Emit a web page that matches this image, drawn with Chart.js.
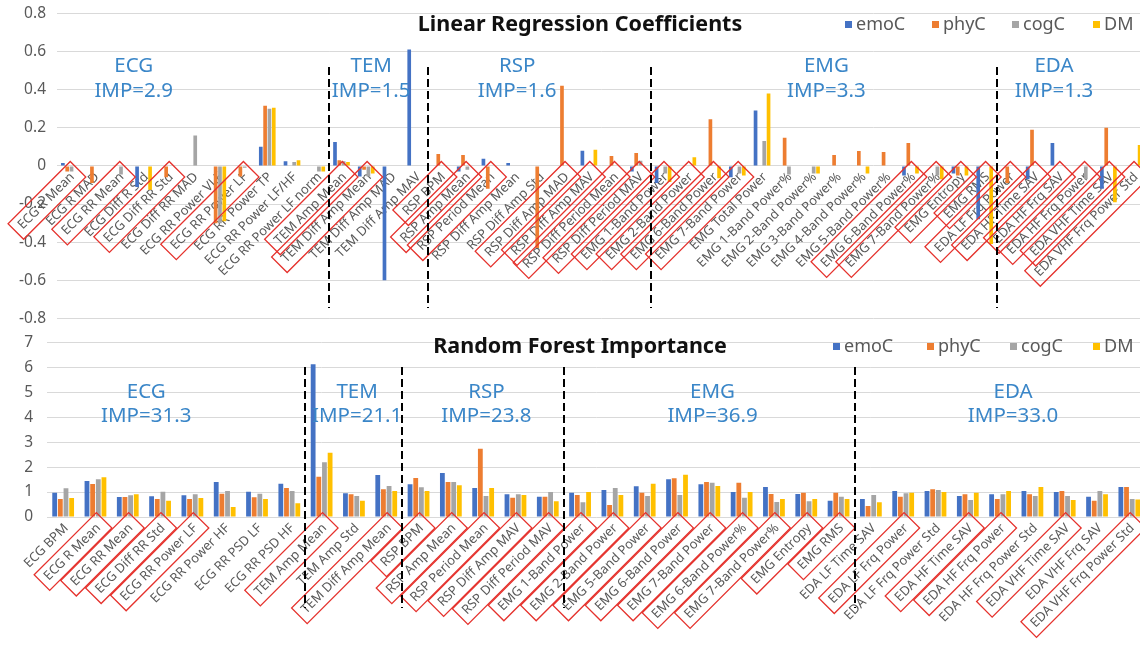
<!DOCTYPE html>
<html lang="en">
<head>
<meta charset="UTF-8">
<title>Linear Regression Coefficients / Random Forest Importance</title>
<script src="https://cdn.jsdelivr.net/npm/chart.js"></script>
<style>
  body { margin: 0; padding: 0; background: #fff; overflow: hidden; }
  #wrap { position: relative; width: 1140px; height: 646px; overflow: hidden; }
  #lrChart { position: absolute; left: 0; top: 0; }
  #rfChart { position: absolute; left: 0; top: 330px; }
</style>
</head>
<body>
<div id="wrap">
  <canvas id="lrChart" width="1160" height="330"></canvas>
  <canvas id="rfChart" width="1160" height="316"></canvas>
</div>
<script>
const seriesNames = ['emoC', 'phyC', 'cogC', 'DM'];
const seriesColors = ['#4472C4', '#ED7D31', '#A5A5A5', '#FFC000'];

// ---- Linear regression coefficients ----
const lrLabels = [
  'ECG R Mean', 'ECG R MAD', 'ECG RR Mean', 'ECG Diff R Std', 'ECG Diff RR Std', 'ECG Diff RR MAD',
  'ECG RR Power VLF', 'ECG RR Power LF', 'ECG RR Power TP', 'ECG RR Power LF/HF', 'ECG RR Power LF norm',
  'TEM Amp Mean', 'TEM Diff Amp Mean', 'TEM Diff Amp MAD', 'TEM Diff Amp MAV',
  'RSP BPM', 'RSP Amp Mean', 'RSP Period Mean', 'RSP Diff Amp Mean', 'RSP Diff Amp Std', 'RSP Diff Amp MAD',
  'RSP Diff Amp MAV', 'RSP Diff Period Mean', 'RSP Diff Period MAV',
  'EMG 1-Band Power', 'EMG 2-Band Power', 'EMG 6-Band Power', 'EMG 7-Band Power', 'EMG Total Power',
  'EMG 1-Band Power%', 'EMG 2-Band Power%', 'EMG 3-Band Power%', 'EMG 4-Band Power%', 'EMG 5-Band Power%',
  'EMG 6-Band Power%', 'EMG 7-Band Power%', 'EMG Entropy', 'EMG RMS',
  'EDA LF Frq Power', 'EDA HF Time SAV', 'EDA HF Frq SAV', 'EDA HF Frq Power', 'EDA VHF Time SAV', 'EDA VHF Frq Power Std'
];
const lrEmoC = [0.015, 0, 0, -0.11, 0, 0, 0, 0, 0.1, 0.025, 0,
  0.125, -0.055, -0.6, 0.61,
  0, -0.03, 0.037, 0.015, 0, 0, 0.08, 0, -0.03,
  -0.09, 0, 0, -0.06, 0.29, 0, 0, 0, 0, 0, -0.05, 0, -0.04, -0.28,
  0, -0.07, 0.12, 0, -0.12, 0];
const lrPhyC = [-0.03, -0.09, 0, 0, -0.06, 0, -0.30, -0.055, 0.315, 0, 0,
  0.03, -0.02, 0, 0,
  0.063, 0.057, -0.12, 0, -0.43, 0.42, 0, 0.052, 0.067,
  0, 0, 0.245, 0, 0, 0.147, 0, 0.057, 0.078, 0.073, 0.12, 0, -0.05, 0,
  -0.09, 0.19, 0, 0, 0.2, 0];
const lrCogC = [-0.03, 0, -0.045, 0, 0, 0.16, -0.30, -0.01, 0.30, 0.02, -0.03,
  0.025, -0.055, 0, 0,
  0, -0.02, 0, 0, 0, 0, 0, 0, 0.027,
  -0.04, 0, 0, -0.04, 0.13, -0.045, -0.04, 0, 0, 0, 0, -0.05, 0, 0,
  0, 0, 0, -0.07, 0, 0];
const lrDM = [0, 0, 0, -0.125, 0, 0, -0.29, 0, 0.305, 0.03, -0.03,
  0.02, -0.04, 0, 0,
  0, 0, 0, 0, 0, 0, 0.085, 0, 0,
  -0.085, 0.045, -0.065, -0.05, 0.38, 0, -0.04, 0, -0.04, 0, -0.04, -0.07, -0.05, -0.41,
  0, 0, 0, 0, -0.19, 0.11];
const lrBoxed = [0, 2, 4, 7, 11, 12, 15, 16, 17, 20, 21, 22, 23, 24, 25, 26, 27, 34, 35, 36, 37, 38, 39, 40, 41, 42, 43];
const lrDividers = [10, 14, 23, 37];
const lrGroupNames = ['ECG', 'TEM', 'RSP', 'EMG', 'EDA'];
const lrImp = ['IMP=2.9', 'IMP=1.5', 'IMP=1.6', 'IMP=3.3', 'IMP=1.3'];

// ---- Random forest importance ----
const rfLabels = [
  'ECG BPM', 'ECG R Mean', 'ECG RR Mean', 'ECG Diff RR Std', 'ECG RR Power LF', 'ECG RR Power HF',
  'ECG RR PSD LF', 'ECG RR PSD HF',
  'TEM Amp Mean', 'TEM Amp Std', 'TEM Diff Amp Mean',
  'RSP BPM', 'RSP Amp Mean', 'RSP Period Mean', 'RSP Diff Amp MAV', 'RSP Diff Period MAV',
  'EMG 1-Band Power', 'EMG 2-Band Power', 'EMG 5-Band Power', 'EMG 6-Band Power', 'EMG 7-Band Power',
  'EMG 6-Band Power%', 'EMG 7-Band Power%', 'EMG Entropy', 'EMG RMS',
  'EDA LF Time SAV', 'EDA LF Frq Power', 'EDA LF Frq Power Std', 'EDA HF Time SAV', 'EDA HF Frq Power',
  'EDA HF Frq Power Std', 'EDA VHF Time SAV', 'EDA VHF Frq SAV', 'EDA VHF Frq Power Std'
];
const rfEmoC = [0.97, 1.44, 0.8, 0.83, 0.87, 1.4, 1.01, 1.33, 6.12, 0.95, 1.68, 1.31, 1.76, 1.16, 0.91, 0.81,
  0.97, 1.08, 1.23, 1.51, 1.31, 1.0, 1.2, 0.92, 0.65, 0.72, 1.04, 1.04, 0.84, 0.91, 1.04, 1.0, 0.81, 1.2];
const rfPhyC = [0.72, 1.32, 0.8, 0.72, 0.72, 0.93, 0.79, 1.16, 1.61, 0.91, 1.11, 1.56, 1.4, 2.73, 0.77, 0.81,
  0.88, 0.48, 0.97, 1.55, 1.4, 1.37, 0.92, 0.97, 0.97, 0.44, 0.81, 1.11, 0.91, 0.72, 0.91, 1.04, 0.65, 1.2];
const rfCogC = [1.15, 1.51, 0.87, 1.01, 0.91, 1.04, 0.93, 1.04, 2.19, 0.84, 1.24, 1.19, 1.4, 0.84, 0.91, 1.0,
  0.59, 1.16, 0.84, 0.88, 1.37, 0.77, 0.6, 0.63, 0.81, 0.88, 0.95, 1.08, 0.68, 0.91, 0.84, 0.84, 1.04, 0.72];
const rfDM = [0.76, 1.59, 0.91, 0.65, 0.76, 0.4, 0.72, 0.55, 2.57, 0.65, 1.04, 1.04, 1.27, 1.16, 0.88, 0.63,
  1.0, 0.88, 1.33, 1.69, 1.24, 1.0, 0.72, 0.72, 0.72, 0.59, 0.97, 1.0, 0.97, 1.04, 1.2, 0.68, 0.91, 0.7];
const rfBoxed = [1, 2, 3, 4, 8, 10, 11, 12, 13, 14, 15, 16, 17, 18, 19, 20, 21, 22, 23, 24, 26, 28, 29, 31, 33];
const rfDividers = [7, 10, 15, 24];
const rfGroupNames = ['ECG', 'TEM', 'RSP', 'EMG', 'EDA'];
const rfImp = ['IMP=31.3', 'IMP=21.1', 'IMP=23.8', 'IMP=36.9', 'IMP=33.0'];

const labelFont = '13px "Noto Sans"';

// draws axis labels, red boxes, dashed group dividers, group notes, title and legend
const overlay = {
  id: 'overlay',
  beforeDatasetsDraw(chart) {
    const { ctx, scales: { x, y } } = chart;
    const y0 = y.getPixelForValue(0);
    ctx.save();
    ctx.font = labelFont;
    ctx.fillStyle = '#595959';
    ctx.textAlign = 'right';
    ctx.textBaseline = 'middle';
    chart.data.labels.forEach((lab, i) => {
      ctx.save();
      ctx.translate(x.getPixelForValue(i) + 3, y0 + 9);
      ctx.rotate(-Math.PI / 4);
      ctx.fillText(lab, 0, 0);
      ctx.restore();
    });
    ctx.restore();
  },
  afterDraw(chart, args, o) {
    const { ctx, scales: { x, y } } = chart;
    const y0 = y.getPixelForValue(0);
    ctx.save();

    // red boxes round selected labels
    ctx.font = labelFont;
    ctx.strokeStyle = '#E5322D';
    ctx.lineWidth = 1.3;
    o.boxed.forEach(i => {
      const w = ctx.measureText(chart.data.labels[i]).width;
      ctx.save();
      ctx.translate(x.getPixelForValue(i) + 3, y0 + 9);
      ctx.rotate(-Math.PI / 4);
      ctx.strokeRect(-w - 6, -11, w + 14, 22);
      ctx.restore();
    });

    // dashed dividers between signal groups
    ctx.strokeStyle = '#000';
    ctx.lineWidth = 2;
    ctx.setLineDash([8, 4]);
    o.dividers.forEach(i => {
      const px = Math.round((x.getPixelForValue(i) + x.getPixelForValue(i + 1)) / 2);
      ctx.beginPath();
      ctx.moveTo(px, o.dashTop);
      ctx.lineTo(px, o.dashBottom);
      ctx.stroke();
    });
    ctx.setLineDash([]);

    // group names and importance
    ctx.font = '20.5px "Noto Sans"';
    ctx.fillStyle = '#3A86C8';
    ctx.textAlign = 'center';
    ctx.textBaseline = 'middle';
    o.groupNames.forEach((g, k) => {
      const px = x.getPixelForValue(o.groupAt[k]);
      ctx.fillText(g, px, o.groupY[0]);
      ctx.fillText(o.imp[k], px, o.groupY[1]);
    });

    // title
    ctx.font = 'bold 21.5px "Noto Sans"';
    ctx.fillStyle = '#111';
    ctx.fillText(o.title, 580, o.titleY);

    // legend
    ctx.font = '18px "Noto Sans"';
    ctx.textAlign = 'left';
    seriesNames.forEach((n, k) => {
      const lx = o.legendX[k];
      ctx.fillStyle = seriesColors[k];
      ctx.fillRect(lx, o.titleY - 4, 7, 7);
      ctx.fillStyle = '#595959';
      ctx.fillText(n, lx + 11, o.titleY);
    });
    ctx.restore();
  }
};

function makeDatasets(series) {
  return series.map((data, k) => ({
    label: seriesNames[k],
    data: data,
    backgroundColor: seriesColors[k],
    categoryPercentage: 0.7,
    barPercentage: 0.85
  }));
}

function yAxis(min, max, step, width, pad) {
  return {
    min: min, max: max,
    afterFit(scale) {
      scale.width = width;
      scale.paddingTop = 0;
      scale.paddingBottom = 0;
    },
    border: { display: false },
    grid: { color: '#D9D9D9', drawTicks: false },
    ticks: {
      stepSize: step,
      padding: pad,
      color: '#595959',
      font: { family: '"Noto Sans"', size: 15.5 },
      callback: v => String(Math.round(v * 10) / 10)
    }
  };
}

new Chart(document.getElementById('lrChart'), {
  type: 'bar',
  data: { labels: lrLabels, datasets: makeDatasets([lrEmoC, lrPhyC, lrCogC, lrDM]) },
  options: {
    responsive: false,
    animation: false,
    layout: { padding: { left: 0, top: 13.3, right: 14.5, bottom: 11.5 } },
    scales: {
      x: { display: false },
      y: yAxis(-0.8, 0.8, 0.2, 57, 11)
    },
    plugins: {
      legend: { display: false },
      tooltip: { enabled: false },
      overlay: {
        boxed: lrBoxed,
        dividers: lrDividers,
        groupNames: lrGroupNames,
        imp: lrImp,
        groupAt: [2.6, 12.2, 18.1, 30.6, 39.8],
        groupY: [66, 91],
        dashTop: 67,
        dashBottom: 308,
        title: 'Linear Regression Coefficients',
        titleY: 25,
        legendX: [845, 932, 1012, 1093]
      }
    }
  },
  plugins: [overlay]
});

new Chart(document.getElementById('rfChart'), {
  type: 'bar',
  data: { labels: rfLabels, datasets: makeDatasets([rfEmoC, rfPhyC, rfCogC, rfDM]) },
  options: {
    responsive: false,
    animation: false,
    layout: { padding: { left: 0, top: 12.3, right: 14.5, bottom: 129 } },
    scales: {
      x: { display: false },
      y: yAxis(0, 7, 1, 47, 14)
    },
    plugins: {
      legend: { display: false },
      tooltip: { enabled: false },
      overlay: {
        boxed: rfBoxed,
        dividers: rfDividers,
        groupNames: rfGroupNames,
        imp: rfImp,
        groupAt: [2.57, 9.1, 13.1, 20.1, 29.4],
        groupY: [62, 86],
        dashTop: 37,
        dashBottom: 278,
        title: 'Random Forest Importance',
        titleY: 17,
        legendX: [833, 927, 1010, 1093]
      }
    }
  },
  plugins: [overlay]
});
</script>
</body>
</html>
